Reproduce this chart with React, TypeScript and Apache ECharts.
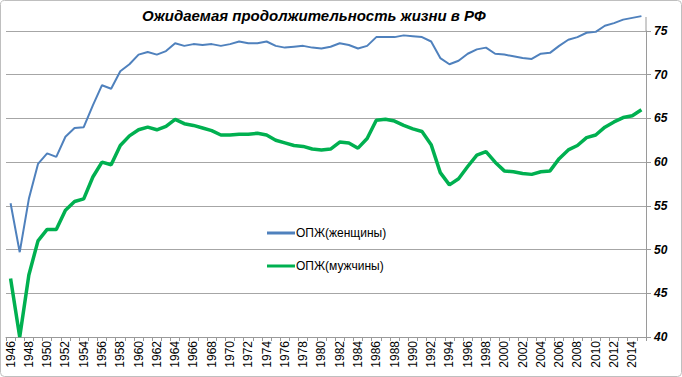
import React, { useEffect, useRef } from "react";
import * as echarts from "echarts";

const years = [
  "1946", "1947", "1948", "1949", "1950", "1951", "1952", "1953", "1954", "1955",
  "1956", "1957", "1958", "1959", "1960", "1961", "1962", "1963", "1964", "1965",
  "1966", "1967", "1968", "1969", "1970", "1971", "1972", "1973", "1974", "1975",
  "1976", "1977", "1978", "1979", "1980", "1981", "1982", "1983", "1984", "1985",
  "1986", "1987", "1988", "1989", "1990", "1991", "1992", "1993", "1994", "1995",
  "1996", "1997", "1998", "1999", "2000", "2001", "2002", "2003", "2004", "2005",
  "2006", "2007", "2008", "2009", "2010", "2011", "2012", "2013", "2014", "2015",
];

const women = [
  55.3, 49.7, 55.8, 59.8, 61.0, 60.6, 62.9, 63.9, 64.0, 66.5,
  68.8, 68.4, 70.4, 71.2, 72.3, 72.6, 72.3, 72.7, 73.6, 73.3,
  73.5, 73.4, 73.5, 73.3, 73.5, 73.8, 73.6, 73.6, 73.8, 73.3,
  73.1, 73.2, 73.3, 73.1, 73.0, 73.2, 73.6, 73.4, 73.0, 73.3,
  74.3, 74.3, 74.3, 74.5, 74.4, 74.3, 73.8, 71.9, 71.2, 71.6,
  72.4, 72.9, 73.1, 72.4, 72.3, 72.1, 71.9, 71.8, 72.4, 72.5,
  73.3, 74.0, 74.3, 74.8, 74.9, 75.6, 75.9, 76.3, 76.5, 76.7,
];

const men = [
  46.7, 40.0, 47.1, 51.0, 52.3, 52.3, 54.5, 55.5, 55.8, 58.3,
  60.0, 59.7, 61.9, 63.0, 63.7, 64.0, 63.7, 64.1, 64.9, 64.4,
  64.2, 63.9, 63.6, 63.1, 63.1, 63.2, 63.2, 63.3, 63.1, 62.5,
  62.2, 61.9, 61.8, 61.5, 61.4, 61.5, 62.3, 62.2, 61.6, 62.7,
  64.8, 64.9, 64.7, 64.2, 63.8, 63.5, 62.0, 58.8, 57.4, 58.1,
  59.5, 60.8, 61.2, 60.0, 59.0, 58.9, 58.7, 58.6, 58.9, 59.0,
  60.4, 61.4, 61.9, 62.8, 63.1, 64.0, 64.6, 65.1, 65.3, 66.0,
];

const titleText = "Ожидаемая продолжительность жизни в РФ";
const womenName = "ОПЖ(женщины)";
const menName = "ОПЖ(мужчины)";

export default function App() {
  const ref = useRef<HTMLDivElement>(null);
  useEffect(() => {
    document.body.style.margin = "0";
    if (!ref.current) return;
    const chart = echarts.init(ref.current, null, { renderer: "svg" });
    const font = "'Liberation Sans', Arial, sans-serif";
    chart.setOption({
      animation: false,
      backgroundColor: "#ffffff",
      title: {
        text: titleText,
        left: 137,
        top: 3,
        textStyle: {
          fontFamily: font,
          fontSize: 15,
          fontWeight: "bold",
          fontStyle: "italic",
          color: "#000",
        },
      },
      legend: {
        orient: "vertical",
        left: 262,
        top: 222,
        icon: "rect",
        itemWidth: 28,
        itemHeight: 3,
        itemGap: 21,
        textStyle: { fontFamily: font, fontSize: 12, color: "#000", padding: [0, 0, 0, -4] },
        data: [womenName, menName],
      },
      grid: { left: 6, right: 36, top: 31, bottom: 40 },
      xAxis: {
        type: "category",
        data: years,
        boundaryGap: true,
        axisLine: { lineStyle: { color: "#9a9a9a", width: 1 } },
        axisTick: { show: true, interval: 0, length: 4, lineStyle: { color: "#9a9a9a" } },
        axisLabel: {
          interval: 1,
          rotate: 90,
          margin: 4,
          fontFamily: font,
          fontSize: 12,
          color: "#000",
        },
        splitLine: { show: false },
      },
      yAxis: {
        type: "value",
        position: "right",
        min: 40,
        max: 75,
        interval: 5,
        axisLine: { show: true, lineStyle: { color: "#9a9a9a" } },
        axisTick: { show: true, length: 5, lineStyle: { color: "#9a9a9a" } },
        axisLabel: {
          margin: 8,
          fontFamily: font,
          fontSize: 12,
          fontWeight: "bold",
          fontStyle: "italic",
          color: "#000",
        },
        splitLine: { show: true, lineStyle: { color: "#a6a6a6", width: 1 } },
      },
      series: [
        {
          name: womenName,
          type: "line",
          data: women,
          symbol: "none",
          clip: false,
          lineStyle: { color: "#4f81bd", width: 2 },
          itemStyle: { color: "#4f81bd" },
        },
        {
          name: menName,
          type: "line",
          data: men,
          symbol: "none",
          clip: false,
          lineStyle: { color: "#00b050", width: 3.5 },
          itemStyle: { color: "#00b050" },
        },
      ],
      graphic: [
        {
          type: "rect",
          shape: { x: 0.5, y: 0.5, width: 681, height: 376, r: 4 },
          style: { fill: "none", stroke: "#bfbfbf", lineWidth: 1 },
          silent: true,
        },
        {
          type: "line",
          shape: { x1: 646, y1: 17, x2: 646, y2: 31 },
          style: { stroke: "#9a9a9a", lineWidth: 1 },
          silent: true,
        },
      ],
    });
    return () => chart.dispose();
  }, []);
  return <div ref={ref} style={{ width: 682, height: 377 }} />;
}
